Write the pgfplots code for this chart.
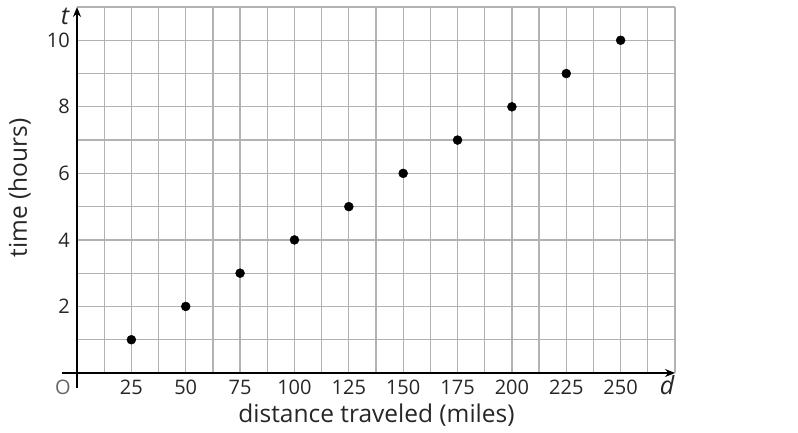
\documentclass[border=0pt]{standalone}
\usepackage{fontspec}
\setmainfont{Open Sans}
\usepackage{pgfplots}
\pgfplotsset{compat=1.18}
\usetikzlibrary{arrows.meta}
\definecolor{gridgray}{RGB}{178,178,178}
\begin{document}
\begin{tikzpicture}[x=1pt,y=1pt]
\useasboundingbox (-77,-60) rectangle (721,373);
\begin{axis}[at={(0,0)}, anchor=south west, scale only axis,
  width=598pt, height=366pt,
  xmin=0, xmax=275, ymin=0, ymax=11,
  axis line style={draw=none},
  xtick={25,50,75,100,125,150,175,200,225,250},
  ytick={2,4,6,8,10},
  minor xtick={12.5,37.5,62.5,87.5,112.5,137.5,162.5,187.5,212.5,237.5,262.5,275},
  minor ytick={1,3,5,7,9,11},
  grid=both,
  major grid style={gridgray, line width=1.2pt},
  minor grid style={gridgray, line width=1.2pt},
  major tick length=0pt, minor tick length=0pt,
  tick style={draw=none},
  /pgf/number format/assume math mode=true,
  ticklabel style={font=\fontsize{20}{22}\selectfont, inner sep=0pt, text=black!85},
  xticklabel style={anchor=base, yshift=-22pt},
  yticklabel style={anchor=east, xshift=-7pt},
  clip=false]
\addplot[only marks, mark=*, mark size=4.5pt, black] coordinates {
  (25,1) (50,2) (75,3) (100,4) (125,5) (150,6) (175,7) (200,8) (225,9) (250,10)};
\end{axis}
\draw[line width=2pt, -{Stealth[length=10pt,width=8pt]}] (-15,0) -- (598,0);
\draw[line width=2pt, -{Stealth[length=10pt,width=8pt]}] (0,-15) -- (0,366);
\node[font=\fontsize{24.5}{26}\selectfont, anchor=base, text=black!85] at (299.5,-50) {distance traveled (miles)};
\node[font=\fontsize{24.5}{26}\selectfont, anchor=base, rotate=90, text=black!85] at (-50,185) {time (hours)};
\node[font=\fontsize{25}{26}\selectfont\itshape, text=black!85] at (-12,357) {t};
\node[font=\fontsize{25}{26}\selectfont\itshape, text=black!85] at (590,-12) {d};
\node[font=\fontsize{20}{22}\selectfont, text=black!60] at (-14,-14) {O};
\end{tikzpicture}
\end{document}
